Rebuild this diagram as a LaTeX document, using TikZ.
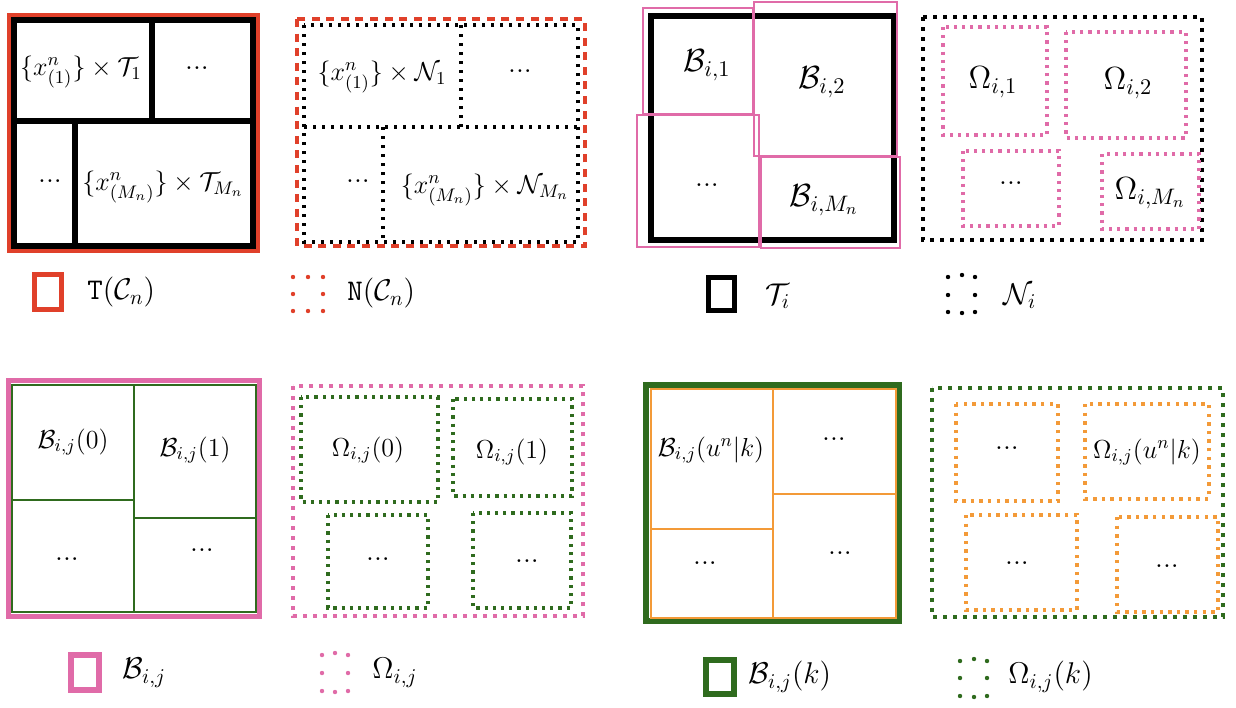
\RequirePackage{fix-cm}
\documentclass[tikz,border=0pt]{standalone}
\usepackage{amsmath, amssymb}
\usepackage{tikz}
\usetikzlibrary{positioning}
\usepackage{xcolor}
\definecolor{figRed}{HTML}{E0402A}
\definecolor{figPink}{HTML}{E06BA8}
\definecolor{figGreen}{HTML}{2F6B1E}
\definecolor{figOrange}{HTML}{F39A38}

\begin{document}
\begin{tikzpicture}[
        x=0.5pt, y=-0.5pt,
        lbl/.style={inner sep=0pt, font=\fontsize{13}{15}\selectfont},
        lblBig/.style={inner sep=0pt, font=\fontsize{16}{18}\selectfont},
        dotsLbl/.style={inner sep=0pt, font=\fontsize{14.5}{16}\selectfont},
        key/.style={inner sep=0pt, anchor=west, font=\fontsize{15}{17}\selectfont},
        solidRed/.style={draw=figRed, line width=2.5pt},
        solidBlack/.style={draw=black, line width=3pt},
        solidPink/.style={draw=figPink, line width=2.5pt},
        solidGreen/.style={draw=figGreen, line width=3pt},
        thinPink/.style={draw=figPink, line width=1pt},
        thinGreen/.style={draw=figGreen, line width=1pt},
        thinOrange/.style={draw=figOrange, line width=1pt},
        dashRed/.style={draw=figRed, line width=2pt, dash pattern=on 4pt off 3.3pt},
        dotBlack/.style={draw=black, line width=1.7pt, dash pattern=on 1.7pt off 2.8pt},
        dotBlackWide/.style={draw=black, line width=2pt, dash pattern=on 2pt off 3pt},
        dotPink/.style={draw=figPink, line width=1.6pt, dash pattern=on 1.6pt off 2.5pt},
        dotPinkWide/.style={draw=figPink, line width=2pt, dash pattern=on 2pt off 3pt},
        dotGreen/.style={draw=figGreen, line width=1.6pt, dash pattern=on 1.6pt off 2.5pt},
        dotGreenWide/.style={draw=figGreen, line width=2pt, dash pattern=on 2pt off 3pt},
        dotOrange/.style={draw=figOrange, line width=1.7pt, dash pattern=on 1.7pt off 2.6pt}
      ]
      \useasboundingbox[fill=white] (0,0) rectangle (1236,707);

      % T(C_n)
      \draw[solidRed] (9.5,15.5) rectangle (257.5,250.5);
      \draw[solidBlack] (14,20) rectangle (253,246);
      \draw[solidBlack] (14,121) -- (253,121);
      \draw[solidBlack] (152,20) -- (152,121);
      \draw[solidBlack] (75,121) -- (75,246);
      \node[lbl] (tOne) at (81,72) {$\{x^{n}_{(1)}\}\times\mathcal{T}_1$};
      \node[dotsLbl] (tDotsA) at (197,68) {...};
      \node[dotsLbl] (tDotsB) at (50,181) {...};
      \node[lbl] (tLast) at (163,187) {$\{x^{n}_{(M_n)}\}\times\mathcal{T}_{M_n}$};

      % N(C_n)
      \draw[dashRed] (297,19) rectangle (585,246);
      \draw[dotBlack] (304,25) rectangle (578,242);
      \draw[dotBlack] (304,127) -- (578,127);
      \draw[dotBlack] (461,25) -- (461,127);
      \draw[dotBlack] (383,127) -- (383,242);
      \node[lbl] (nOne) at (382,77) {$\{x^{n}_{(1)}\}\times\mathcal{N}_1$};
      \node[dotsLbl] (nDotsA) at (520,71) {...};
      \node[dotsLbl] (nDotsB) at (358,181) {...};
      \node[lbl] (nLast) at (485,190) {$\{x^{n}_{(M_n)}\}\times\mathcal{N}_{M_n}$};

      % T_i
      \draw[solidBlack] (651,16) rectangle (894,240);
      \draw[thinPink] (643,8) rectangle (753,114);
      \draw[thinPink] (754,2) rectangle (897,156);
      \draw[thinPink] (637,115) rectangle (759,247);
      \draw[thinPink] (761,157) rectangle (900,248);
      \node[lblBig] (bOne) at (707,65) {$\mathcal{B}_{i,1}$};
      \node[lblBig] (bTwo) at (822,82) {$\mathcal{B}_{i,2}$};
      \node[dotsLbl] (bDots) at (707,185) {...};
      \node[lblBig] (bLast) at (824,200) {$\mathcal{B}_{i,M_n}$};

      % N_i
      \draw[dotBlackWide] (923,17) rectangle (1202,240);
      \draw[dotPink] (943,27) rectangle (1047,135);
      \draw[dotPink] (1066,32) rectangle (1186,138);
      \draw[dotPink] (963,151) rectangle (1059,226);
      \draw[dotPink] (1102,154) rectangle (1199,229);
      \node[lblBig] (oOne) at (993,82) {$\Omega_{i,1}$};
      \node[lblBig] (oTwo) at (1128,83) {$\Omega_{i,2}$};
      \node[dotsLbl] (oDots) at (1011,183) {...};
      \node[lblBig] (oLast) at (1150,193) {$\Omega_{i,M_n}$};

      % Leyenda fila 1
      \draw[figRed, line width=2.5pt] (34.5,274.5) rectangle (61.5,309.5);
      \node[key] (keyT) at (87,292) {$\texttt{T}(\mathcal{C}_n)$};
      \foreach \px/\py in {293/277,308/277,323/277,293/294,323/294,293/311,308/311,323/311}
        \fill[figRed] (\px,\py) circle (1.1pt);
      \node[key] (keyN) at (347,293) {$\texttt{N}(\mathcal{C}_n)$};
      \draw[black, line width=2.5pt] (708.5,277.5) rectangle (734.5,310.5);
      \node[key] (keyTi) at (765,296) {$\mathcal{T}_i$};
      \foreach \px/\py in {948/277,962/275,975/277,948/295,975/295,948/312,962/313,975/312}
        \fill[black] (\px,\py) circle (1.1pt);
      \node[key] (keyNi) at (1003,296) {$\mathcal{N}_i$};

      % B_{i,j}
      \draw[solidPink] (8.5,380.5) rectangle (259.5,616.5);
      \draw[thinGreen] (12,385) rectangle (256,612);
      \draw[thinGreen] (134,385) -- (134,612);
      \draw[thinGreen] (12,500) -- (134,500);
      \draw[thinGreen] (134,518) -- (256,518);
      \node[lbl] (bZero) at (73,442) {$\mathcal{B}_{i,j}(0)$};
      \node[lbl] (bOneJ) at (195,450) {$\mathcal{B}_{i,j}(1)$};
      \node[dotsLbl] (bjDotsA) at (67,559) {...};
      \node[dotsLbl] (bjDotsB) at (202,550) {...};

      % Omega_{i,j}
      \draw[dotPinkWide] (293,386) rectangle (583,616);
      \draw[dotGreen] (301,397) rectangle (438,502);
      \draw[dotGreen] (453,399) rectangle (572,496);
      \draw[dotGreen] (328,515) rectangle (428,608);
      \draw[dotGreen] (473,513) rectangle (571,608);
      \node[lbl] (oZero) at (368,450) {$\Omega_{i,j}(0)$};
      \node[lbl] (oOneJ) at (512,452) {$\Omega_{i,j}(1)$};
      \node[dotsLbl] (ojDotsA) at (378,559) {...};
      \node[dotsLbl] (ojDotsB) at (527,561) {...};

      % B_{i,j}(k)
      \draw[solidGreen] (646,385) rectangle (899,621);
      \draw[thinOrange] (651,389) rectangle (896,618);
      \draw[thinOrange] (773,389) -- (773,618);
      \draw[thinOrange] (651,529) -- (773,529);
      \draw[thinOrange] (773,494) -- (896,494);
      \node[lbl] (bk) at (711,450) {$\mathcal{B}_{i,j}(u^n|k)$};
      \node[dotsLbl] (bkDotsA) at (834,439) {...};
      \node[dotsLbl] (bkDotsB) at (705,563) {...};
      \node[dotsLbl] (bkDotsC) at (840,553) {...};

      % Omega_{i,j}(k)
      \draw[dotGreenWide] (932,388) rectangle (1223,617);
      \draw[dotOrange] (956,404) rectangle (1058,501);
      \draw[dotOrange] (1085,404) rectangle (1209,499);
      \draw[dotOrange] (966,515) rectangle (1077,610);
      \draw[dotOrange] (1117,517) rectangle (1218,612);
      \node[dotsLbl] (okDotsA) at (1007,448) {...};
      \node[lbl] (ok) at (1147,452) {$\Omega_{i,j}(u^n|k)$};
      \node[dotsLbl] (okDotsB) at (1017,563) {...};
      \node[dotsLbl] (okDotsC) at (1167,566) {...};

      % Leyenda fila 2
      \draw[figPink, line width=3pt] (71,655) rectangle (99,690);
      \node[key] (keyB) at (122,673) {$\mathcal{B}_{i,j}$};
      \foreach \px/\py in {322/655,335/653,348/655,322/673,348/673,322/691,335/692,348/691}
        \fill[figPink] (\px,\py) circle (1.1pt);
      \node[key] (keyO) at (372,673) {$\Omega_{i,j}$};
      \draw[figGreen, line width=2.8pt] (706,660) rectangle (734,694);
      \node[key] (keyBk) at (748,677) {$\mathcal{B}_{i,j}(k)$};
      \foreach \px/\py in {960/661,974/659,987/661,960/678,987/678,960/696,974/697,987/696}
        \fill[figGreen] (\px,\py) circle (1.1pt);
      \node[key] (keyOk) at (1008,677) {$\Omega_{i,j}(k)$};

    \end{tikzpicture}
\end{document}
